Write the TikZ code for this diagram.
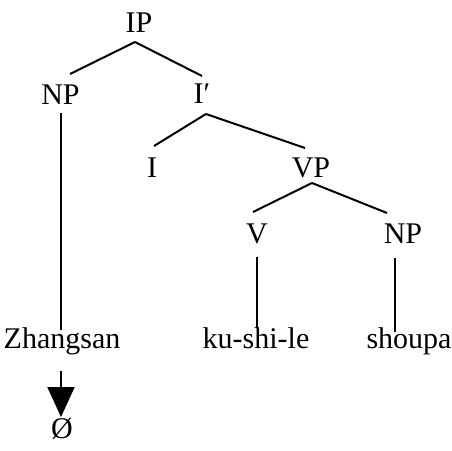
\documentclass[tikz,border=0pt]{standalone}
\usepackage{fontspec}
\setmainfont{Liberation Serif}
\usetikzlibrary{arrows.meta,calc}
\begin{document}
\begin{tikzpicture}[x=1pt,y=-1pt,
  lab/.style={anchor=base,inner sep=0pt,font=\fontsize{30}{36}\selectfont},
  edge/.style={line width=2pt}]
\fill[white] (0,0) rectangle (452,450);
\useasboundingbox (0,0) rectangle (452,450);
\node[lab] (IP) at (139,32) {IP};
\node[lab] (NP1) at (60.5,104) {NP};
\node[lab] (Ib) at (202,103) {I′};
\node[lab] (I) at (152,177) {I};
\node[lab] (VP) at (311,177) {VP};
\node[lab] (V) at (257,243) {V};
\node[lab] (NP2) at (403,243) {NP};
\node[lab] (Zh) at (62,348) {Zhangsan};
\node[lab] (ku) at (256,348) {ku-shi-le};
\node[lab] (sh) at (409,348) {shoupa};
\node[lab] (O) at (62,438) {Ø};
\draw[edge] ($(IP.base)+(-4,10)$) -- ($(NP1.base)+(9.5,-30)$);
\draw[edge] ($(IP.base)+(-4,10)$) -- ($(Ib.base)+(0,-27)$);
\draw[edge] ($(NP1.base)+(0.5,9)$) -- ($(Zh.base)+(-1,-18)$);
\draw[edge] ($(Ib.base)+(4,11)$) -- ($(I.base)+(2,-31)$);
\draw[edge] ($(Ib.base)+(4,11)$) -- ($(VP.base)+(-6,-29)$);
\draw[edge] ($(VP.base)+(1,6)$) -- ($(V.base)+(-4,-31)$);
\draw[edge] ($(VP.base)+(1,6)$) -- ($(NP2.base)+(-16,-30)$);
\draw[edge] ($(V.base)+(0,14)$) -- ($(ku.base)+(1,-20)$);
\draw[edge] ($(NP2.base)+(-8,15)$) -- ($(sh.base)+(-14,-16)$);
\draw[edge,-{Triangle[width=27pt,length=30pt]}] ($(Zh.base)+(-1,23)$) -- ($(O.base)+(-1,-21)$);
\end{tikzpicture}
\end{document}
